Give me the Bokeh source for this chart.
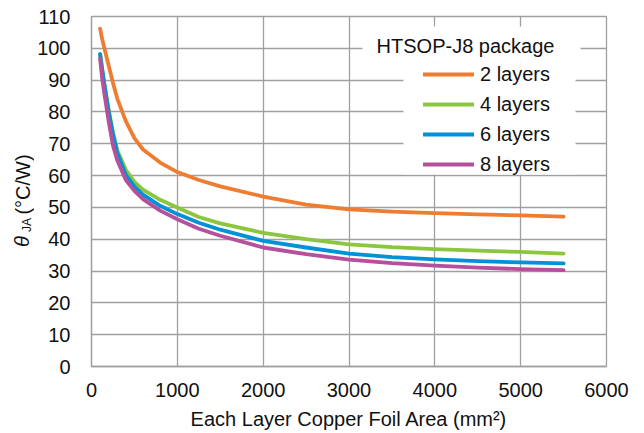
import math
from bokeh.plotting import figure
from bokeh.layouts import row
from bokeh.core.properties import value
from bokeh.models import Legend, LegendItem, Label, BoxAnnotation, Range1d, SingleIntervalTicker
from bokeh.embed import file_html
from bokeh.resources import INLINE

# ---- data ----
area = [100, 125, 150, 200, 250, 300, 400, 500, 600, 800, 1000, 1250, 1500, 2000,
        2500, 3000, 3500, 4000, 4500, 5000, 5500]
theta_2 = [106.2, 102.8, 100.0, 94.6, 89.2, 84.2, 77.1, 71.8, 68.2, 64.1, 61.1, 58.6, 56.6, 53.4,
           50.9, 49.4, 48.7, 48.2, 47.8, 47.5, 47.1]
theta_4 = [98.2, 93.5, 88.8, 80.8, 73.6, 68.0, 61.8, 58.0, 55.6, 52.4, 50.0, 47.0, 45.0, 42.0,
           40.0, 38.4, 37.5, 36.9, 36.4, 36.0, 35.5]
theta_6 = [98.2, 93.3, 88.6, 80.0, 73.0, 67.2, 60.2, 56.5, 54.0, 50.5, 47.9, 45.2, 43.0, 39.5,
           37.4, 35.5, 34.4, 33.7, 33.1, 32.7, 32.4]
theta_8 = [96.8, 90.4, 85.7, 77.0, 69.5, 64.8, 58.6, 55.2, 52.6, 49.0, 46.3, 43.3, 41.1, 37.4,
           35.3, 33.6, 32.5, 31.7, 31.1, 30.6, 30.3]
series_labels = ["2 layers", "4 layers", "6 layers", "8 layers"]
series_colors = ["#EE7D31", "#8CC63F", "#0091D6", "#B5509C"]
legend_title = "HTSOP-J8 package"
x_label = "Each Layer Copper Foil Area (mm²)"
y_symbol, y_sub, y_unit = "θ", "JA", "(°C/W)"

FONT = "Liberation Sans"
FS = "20px"
GRID = "#a0a0a0"
TXT = "#111111"
H = 433
LW = 34
TOP, BOTTOM = 16, 67          # borders of the chart frame (px)

# ---- narrow panel that carries the rotated y-axis title ----
# its frame is aligned with the chart frame by the row layout, so the
# range is chosen such that a data y equals (H - pixel row)
lab = figure(width=LW, height=H, x_range=Range1d(0, LW), y_range=Range1d(BOTTOM, H - TOP),
             output_backend="svg", toolbar_location=None, min_border=0,
             x_axis_type=None, y_axis_type=None,
             background_fill_color="white", border_fill_color="white")
lab.outline_line_color = None
half = math.pi / 2
common = dict(angle=half, text_align="center", text_baseline="middle", text_color=TXT,
              text_font=value(FONT))
lab.text(x=[21], y=[H - 241], text=[y_symbol], text_font_size="20px",
         text_font_style="italic", **common)
lab.text(x=[26.5], y=[H - 224.5], text=[y_sub], text_font_size="12px", **common)
lab.text(x=[22], y=[H - 184], text=[y_unit], text_font_size="20px", **common)

# ---- main chart ----
p = figure(width=644 - LW, height=H, x_range=Range1d(0, 6000), y_range=Range1d(0, 110),
           output_backend="svg", toolbar_location=None,
           min_border_left=86 - LW, min_border_right=38, min_border_top=TOP,
           min_border_bottom=BOTTOM,
           background_fill_color="white", border_fill_color="white")
p.outline_line_color = GRID
p.outline_line_width = 1.3

p.xaxis.ticker = SingleIntervalTicker(interval=1000)
p.yaxis.ticker = SingleIntervalTicker(interval=10)
for ax in (p.xaxis, p.yaxis):
    ax.axis_line_color = GRID
    ax.axis_line_width = 1.3
    ax.major_tick_line_color = None
    ax.minor_tick_line_color = None
    ax.major_tick_out = 0
    ax.major_tick_in = 0
    ax.major_label_text_font = FONT
    ax.major_label_text_font_size = FS
    ax.major_label_text_color = TXT
p.xaxis.major_label_standoff = 12
p.yaxis.major_label_standoff = 17
p.xaxis.axis_label = x_label
p.xaxis.axis_label_text_font = FONT
p.xaxis.axis_label_text_font_size = FS
p.xaxis.axis_label_text_font_style = "normal"
p.xaxis.axis_label_text_color = TXT
p.xaxis.axis_label_standoff = 8

p.grid.grid_line_color = GRID
p.grid.grid_line_width = 1.3

renderers = []
for ys, c in zip([theta_2, theta_4, theta_6, theta_8], series_colors):
    r = p.line(area, ys, line_color=c, line_width=3.8, line_join="round", line_cap="round")
    renderers.append(r)

# white areas behind the legend title and the legend items
p.add_layout(BoxAnnotation(left=271, right=489, top=340, bottom=304,
                           left_units="screen", right_units="screen",
                           top_units="screen", bottom_units="screen",
                           fill_color="white", fill_alpha=1.0, line_color=None))
p.add_layout(BoxAnnotation(left=312, right=484, top=304, bottom=192,
                           left_units="screen", right_units="screen",
                           top_units="screen", bottom_units="screen",
                           fill_color="white", fill_alpha=1.0, line_color=None))

p.add_layout(Label(x=374, y=321, x_units="screen", y_units="screen", text=legend_title,
                   text_align="center", text_baseline="middle",
                   text_font=FONT, text_font_size=FS, text_color=TXT))

legend = Legend(items=[LegendItem(label=l, renderers=[r]) for l, r in zip(series_labels, renderers)],
                location=(332, 190), margin=0, padding=0, spacing=6,
                glyph_width=51, glyph_height=24, label_height=24, label_standoff=6,
                label_text_font=FONT, label_text_font_size=FS, label_text_color=TXT,
                background_fill_alpha=0, border_line_color=None)
p.add_layout(legend)

layout = row(lab, p, spacing=0)
open("out.html", "w").write(file_html(layout, INLINE))
